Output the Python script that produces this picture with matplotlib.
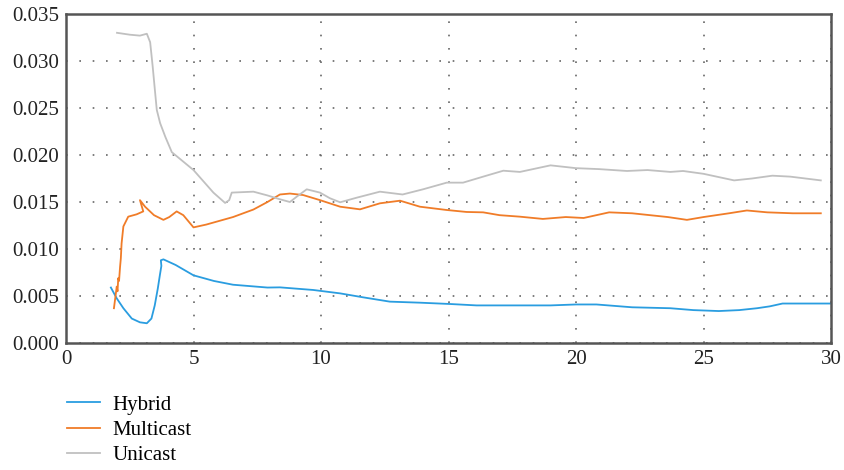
import matplotlib
matplotlib.use("Agg")
import matplotlib.pyplot as plt
from matplotlib.ticker import FormatStrFormatter

plt.rcParams['font.family'] = ['Liberation Serif', 'DejaVu Serif']

hybrid_x = [1.76, 1.99, 2.25, 2.58, 2.9, 3.17, 3.35, 3.48, 3.6, 3.68, 3.74, 3.72, 3.82, 4.3, 5.0,
            5.8, 6.55, 7.9, 8.39, 9.7, 10.75, 11.65, 12.7, 13.88, 15.06, 16.1, 17.0, 17.8, 19.0,
            20.0, 20.8, 22.2, 23.7, 24.6, 25.6, 26.4, 27.1, 27.6, 28.1, 29.0, 29.96]
hybrid_y = [0.0059, 0.00475, 0.0037, 0.0026, 0.0022, 0.0021, 0.0026, 0.0040, 0.0058, 0.0072,
            0.0082, 0.0088, 0.0089, 0.0083, 0.0072, 0.0066, 0.0062, 0.0059, 0.00592, 0.00564,
            0.00528, 0.00486, 0.0044, 0.00429, 0.00415, 0.0040, 0.0040, 0.0040, 0.0040, 0.0041,
            0.0041, 0.0038, 0.0037, 0.0035, 0.0034, 0.0035, 0.0037, 0.0039, 0.0042, 0.0042, 0.0042]

multi_x = [1.88, 1.99, 2.02, 2.05, 2.08, 2.12, 2.15, 2.18, 2.25, 2.44, 2.77, 3.03, 2.9, 3.1,
           3.45, 3.82, 4.05, 4.34, 4.6, 5.0, 5.5, 6.55, 7.35, 7.9, 8.39, 8.78, 9.3, 9.96, 10.75,
           11.53, 12.31, 13.1, 13.88, 14.93, 15.71, 16.36, 17.0, 17.8, 18.7, 19.6, 20.3, 21.3,
           22.2, 23.6, 24.35, 25.0, 26.0, 26.7, 27.5, 28.5, 29.6]
multi_y = [0.0037, 0.0060, 0.0055, 0.0069, 0.0066, 0.0081, 0.0090, 0.0106, 0.0124, 0.01344,
           0.01369, 0.0140, 0.0152, 0.0145, 0.0136, 0.0131, 0.0134, 0.0140, 0.0136, 0.0123,
           0.0126, 0.0134, 0.0142, 0.0150, 0.0158, 0.0159, 0.01574, 0.0152, 0.0145, 0.01422,
           0.01486, 0.01514, 0.0145, 0.01415, 0.01394, 0.0139, 0.0136, 0.01344, 0.0132, 0.0134,
           0.0133, 0.0139, 0.0138, 0.0134, 0.0131, 0.0134, 0.0138, 0.0141, 0.0139, 0.0138,
           0.0138]

uni_x = [2.0, 2.5, 2.9, 3.17, 3.3, 3.4, 3.5, 3.56, 3.69, 3.9, 4.15, 5.0, 5.78, 6.24, 6.4, 6.5,
         7.35, 7.9, 8.39, 8.78, 9.05, 9.44, 9.96, 10.35, 10.75, 11.4, 12.31, 13.2, 14.0, 14.93,
         15.57, 16.36, 17.15, 17.8, 19.0, 20.0, 20.9, 22.0, 22.8, 23.7, 24.2, 25.0, 26.2, 26.9,
         27.7, 28.4, 29.6]
uni_y = [0.0330, 0.0328, 0.0327, 0.0329, 0.0320, 0.0294, 0.0265, 0.0248, 0.0234, 0.0219, 0.0203,
         0.0184, 0.0160, 0.0149, 0.0152, 0.0160, 0.0161, 0.0157, 0.01529, 0.0150, 0.01557,
         0.01635, 0.0160, 0.0154, 0.01497, 0.01546, 0.0161, 0.0158, 0.01635, 0.01706, 0.01706,
         0.0177, 0.01833, 0.0182, 0.0189, 0.0186, 0.0185, 0.0183, 0.0184, 0.0182, 0.0183,
         0.0180, 0.0173, 0.0175, 0.0178, 0.0177, 0.0173]

x_ticks = [0, 5, 10, 15, 20, 25, 30]
y_ticks = [0.000, 0.005, 0.010, 0.015, 0.020, 0.025, 0.030, 0.035]

fig = plt.figure(figsize=(8.44, 4.70), dpi=100)
ax = fig.add_axes([0.0782, 0.2702, 0.9064, 0.7])

l1, = ax.plot(hybrid_x, hybrid_y, color='#2a9de0', lw=1.3, label='Hybrid')
l2, = ax.plot(multi_x, multi_y, color='#f07c28', lw=1.3, label='Multicast')
l3, = ax.plot(uni_x, uni_y, color='#c0c0c0', lw=1.3, label='Unicast')

ax.set_xlim(0, 30)
ax.set_ylim(0, 0.035)
ax.set_xticks(x_ticks)
ax.set_yticks(y_ticks)
ax.yaxis.set_major_formatter(FormatStrFormatter('%.3f'))
ax.tick_params(length=0, labelsize=15, colors='#222222', pad=5)
ax.grid(True, color='#666666', linestyle=(0, (1, 7)), linewidth=1.2)
for s in ax.spines.values():
    s.set_color('#555555')
    s.set_linewidth(1.8)

fig.legend(handles=[l1, l2, l3], loc='upper left', bbox_to_anchor=(0.069, 0.177),
           frameon=False, fontsize=15, handlelength=1.6, handletextpad=0.6,
           labelspacing=0.27, borderaxespad=0)

fig.savefig('out.png', dpi=100)
